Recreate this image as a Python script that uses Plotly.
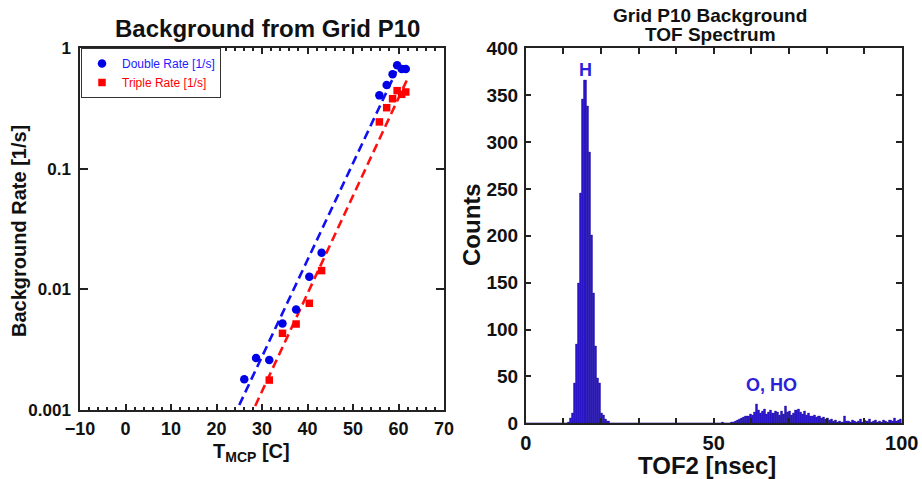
import plotly.graph_objects as go

# ---------------- Left panel data ----------------
double_T = [26.1, 28.7, 31.6, 34.5, 37.5, 40.4, 43.1, 55.8, 57.4, 58.7, 59.7, 60.7, 61.6]
double_rate = [0.0018, 0.0027, 0.0026, 0.0052, 0.0068, 0.0127, 0.0201, 0.405, 0.494, 0.605, 0.718, 0.67, 0.67]
triple_T = [31.6, 34.5, 37.5, 40.4, 43.1, 55.8, 57.4, 58.7, 59.7, 60.7, 61.6]
triple_rate = [0.00177, 0.00432, 0.00516, 0.00766, 0.0143, 0.244, 0.32, 0.38, 0.443, 0.413, 0.432]
double_fit_T = [25.0, 59.5]
double_fit_rate = [0.0011, 0.64]
triple_fit_T = [28.5, 62.2]
triple_fit_rate = [0.00108, 0.58]
log_tick_vals = [0.001, 0.01, 0.1, 1]
log_tick_text = ["0.001", "0.01", "0.1", "1"]

# ---------------- Right panel data ----------------
bin_width = 100 / 180
counts = (
    [0] * 20 + [1]
    + [5, 11, 43, 84, 149, 245, 346, 366, 338, 289, 201, 139, 82, 48, 43, 11, 9, 4, 2]
    + [0] * 54 + [1, 0, 0, 0, 1, 1, 2, 3, 4, 5, 6, 8, 7, 10, 9, 12, 20, 14, 11, 13, 15, 10,
                  12, 14, 11, 13, 12, 9, 13, 10, 18, 12, 13, 9, 11, 14, 15, 12, 10, 13, 9,
                  11, 8, 7, 9, 6, 7, 5, 6, 4, 5, 3, 4, 2, 3, 1, 2, 1, 8, 2, 2, 1, 3, 2, 1,
                  2, 4, 1, 3, 2, 4, 1, 2, 3, 1, 2, 1, 3, 2, 1, 3, 2, 5, 2, 3, 4]
)
counts = counts[:180] + [0] * max(0, 180 - len(counts))
bin_centers = [(k + 0.5) * bin_width for k in range(180)]

FONT = "Liberation Sans, Arial, Helvetica, sans-serif"
W, H = 922, 479

fig = go.Figure()

# fit lines
fig.add_trace(go.Scatter(x=double_fit_T, y=double_fit_rate, mode="lines",
                         line=dict(color="#1010F0", width=2.6, dash="9px,5px"),
                         showlegend=False, xaxis="x", yaxis="y", hoverinfo="skip"))
fig.add_trace(go.Scatter(x=triple_fit_T, y=triple_fit_rate, mode="lines",
                         line=dict(color="#FF1010", width=2.6, dash="9px,5px"),
                         showlegend=False, xaxis="x", yaxis="y", hoverinfo="skip"))
fig.add_trace(go.Scatter(x=double_T, y=double_rate, mode="markers",
                         marker=dict(symbol="circle", size=8.5, color="#0000E6"),
                         name="<span style='color:#2020FF'>Double Rate [1/s]</span>",
                         xaxis="x", yaxis="y"))
fig.add_trace(go.Scatter(x=triple_T, y=triple_rate, mode="markers",
                         marker=dict(symbol="square", size=7.5, color="#FF0000"),
                         name="<span style='color:#FF0000'>Triple Rate [1/s]</span>",
                         xaxis="x", yaxis="y"))

# histogram
fig.add_trace(go.Bar(x=bin_centers, y=counts, width=bin_width,
                     marker=dict(color="#2A14C8", line=dict(color="#1A0A9A", width=0.4)),
                     showlegend=False, xaxis="x2", yaxis="y2"))

axis_common = dict(showline=True, linecolor="#222", linewidth=1.5, mirror="allticks",
                   ticks="inside", tickcolor="#222", showgrid=False, zeroline=False,
                   automargin=False)

ldom_x = [80 / W, 444 / W]
ldom_y = [(H - 410) / H, (H - 48) / H]
rdom_x = [525.7 / W, 901.7 / W]
rdom_y = [(H - 423.3) / H, (H - 48.3) / H]

fig.update_layout(
    width=W, height=H, margin=dict(l=0, r=0, t=0, b=0, pad=0, autoexpand=False),
    paper_bgcolor="white", plot_bgcolor="white",
    font=dict(family=FONT, color="#111"),
    bargap=0,
    xaxis=dict(domain=ldom_x, range=[-10, 70], dtick=10, tick0=-10, ticklen=6, tickwidth=1.5,
               minor=dict(dtick=2, ticks="inside", ticklen=3, tickcolor="#222"),
               tickfont=dict(size=18, weight="bold", family=FONT, color="#111"),
               ticklabelstandoff=2, anchor="y", **axis_common),
    yaxis=dict(domain=ldom_y, type="log", range=[-3, 0], tickvals=log_tick_vals,
               ticktext=log_tick_text, ticklen=8, tickwidth=1.5,
               tickfont=dict(size=17, weight="bold", family=FONT, color="#111"),
               ticklabelstandoff=4, anchor="x", **axis_common),
    xaxis2=dict(domain=rdom_x, range=[0, 100], dtick=50, tick0=0, ticklen=6, tickwidth=1.5,
                minor=dict(dtick=10, ticks="inside", ticklen=6, tickcolor="#222"),
                tickfont=dict(size=20, weight="bold", family=FONT, color="#111"),
                ticklabelstandoff=1, anchor="y2", **axis_common),
    yaxis2=dict(domain=rdom_y, range=[0, 400], dtick=50, ticklen=6, tickwidth=1.5,
                tickfont=dict(size=19, weight="bold", family=FONT, color="#111"),
                ticklabelstandoff=2, anchor="x2", **axis_common),
    legend=dict(x=81 / W, y=(H - 48) / H, xanchor="left", yanchor="top",
                bordercolor="#333", borderwidth=1, bgcolor="white",
                font=dict(size=12, family=FONT), tracegroupgap=0),
)

ann = [
    dict(text="<b>Background from Grid P10</b>", x=267 / W, y=(H - 29) / H, size=24, color="#111"),
    dict(text="<b>Background Rate [1/s]</b>", x=19 / W, y=(H - 231) / H, size=20, color="#111", angle=-90),
    dict(text="<b>T<sub>MCP</sub> [C]</b>", x=252 / W, y=(H - 452) / H, size=20, color="#111"),
    dict(text="<b>Grid P10 Background</b>", x=710 / W, y=(H - 16) / H, size=19, color="#111"),
    dict(text="<b>TOF Spectrum</b>", x=710 / W, y=(H - 35) / H, size=19, color="#111"),
    dict(text="<b>Counts</b>", x=471 / W, y=(H - 225) / H, size=24, color="#111", angle=-90),
    dict(text="<b>TOF2 [nsec]</b>", x=707 / W, y=(H - 465.5) / H, size=24, color="#111"),
]
annotations = []
for a in ann:
    annotations.append(dict(text=a["text"], x=a["x"], y=a["y"], xref="paper", yref="paper",
                            xanchor="center", yanchor="middle", showarrow=False,
                            textangle=a.get("angle", 0),
                            font=dict(size=a["size"], color=a["color"], family=FONT)))
# peak labels in data coordinates
annotations.append(dict(text="<b>H</b>", x=15.8, y=377, xref="x2", yref="y2", showarrow=False,
                        xanchor="center", yanchor="middle",
                        font=dict(size=18, color="#2B22D8", family=FONT)))
annotations.append(dict(text="<b>O, HO</b>", x=65.4, y=41, xref="x2", yref="y2", showarrow=False,
                        xanchor="center", yanchor="middle",
                        font=dict(size=18, color="#2B22D8", family=FONT)))
fig.update_layout(annotations=annotations)

fig.write_html("out.html")
